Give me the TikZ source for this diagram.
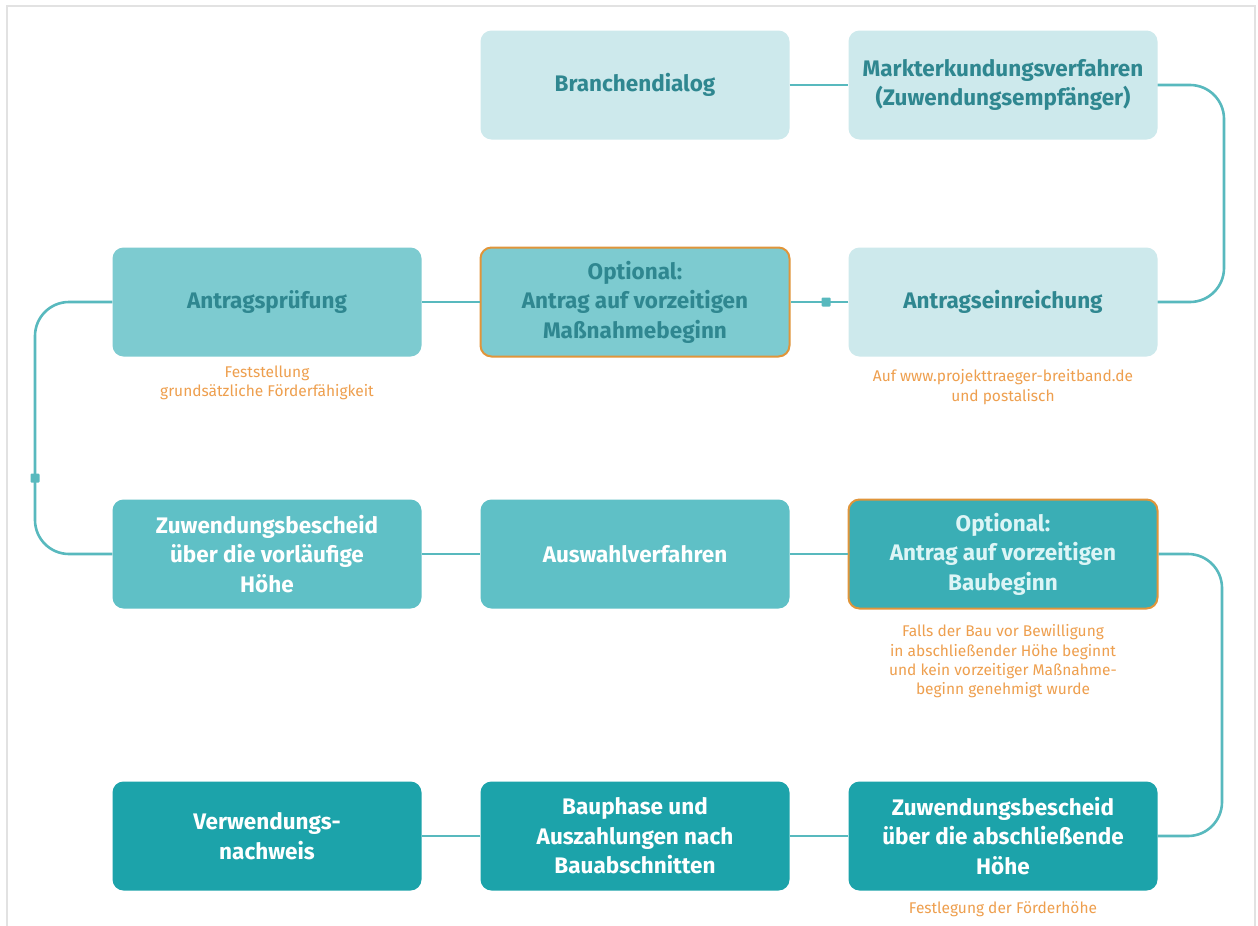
\documentclass[tikz,border=0pt]{standalone}
\usepackage{fontspec}
\setmainfont{Fira Sans}
\definecolor{c1}{HTML}{CDE9EC}
\definecolor{c2}{HTML}{7DCBD0}
\definecolor{c3}{HTML}{5FC0C6}
\definecolor{c4}{HTML}{3AAEB5}
\definecolor{c5}{HTML}{1CA3AA}
\definecolor{tdark}{HTML}{2F8790}
\definecolor{tlight}{HTML}{DDF5F6}
\definecolor{ora}{HTML}{E0953A}
\definecolor{orat}{HTML}{EE9F4E}
\definecolor{line}{HTML}{58B9BE}
\definecolor{frame}{HTML}{E2E2E2}
\tikzset{
  box/.style={rounded corners=11pt, minimum width=309pt, minimum height=109pt, align=center,
    font=\fontsize{22.5}{29.5}\selectfont\bfseries, inner sep=0pt},
  lightbox/.style={box, fill=c1, text=tdark},
  midbox/.style={box, fill=c2, text=tdark},
  optbox/.style={box, fill=c2, text=tdark, draw=ora, line width=2pt},
  box3/.style={box, fill=c3, text=white},
  optbox3/.style={box, fill=c4, text=tlight, draw=ora, line width=2pt},
  box4/.style={box, fill=c5, text=white},
  conn/.style={draw=line, line width=2.6pt, rounded corners=34pt},
  note/.style={anchor=north, align=center, text=orat, font=\fontsize{15.5}{19.3}\selectfont, inner sep=0pt},
  sq/.style={fill=line, minimum size=9pt, inner sep=0pt, rounded corners=1pt}
}
\begin{document}
\begin{tikzpicture}[x=1pt,y=-1pt]
\useasboundingbox (0,0) rectangle (1258,926);
\fill[white] (0,0) rectangle (1258,926);
\draw[frame, line width=1.5pt] (7,926) -- (7,6) -- (1255,6) -- (1255,926);

% row 1
\node[lightbox] (bd) at (635,85) {Branchendialog};
\node[lightbox] (mk) at (1003,85) {Markterkundungsverfahren\\(Zuwendungsempfänger)};
% row 2
\node[midbox] (ap) at (267,302) {Antragsprüfung};
\node[optbox] (om) at (635,302) {Optional:\\Antrag auf vorzeitigen\\Maßnahmebeginn};
\node[lightbox] (ae) at (1003,302) {Antragseinreichung};
% row 3
\node[box3] (zv) at (267,554) {Zuwendungsbescheid\\über die vorläufige\\Höhe};
\node[box3] (av) at (635,554) {Auswahlverfahren};
\node[optbox3] (ob) at (1003,554) {Optional:\\Antrag auf vorzeitigen\\Baubeginn};
% row 4
\node[box4] (vn) at (267,836) {Verwendungs-\\nachweis};
\node[box4] (bp) at (635,836) {Bauphase und\\Auszahlungen nach\\Bauabschnitten};
\node[box4] (za) at (1003,836) {Zuwendungsbescheid\\über die abschließende\\Höhe};

% notes
\node[note] (n1) at ([yshift=-9pt]ap.south) {Feststellung\\grundsätzliche Förderfähigkeit};
\node[note] (n2) at ([yshift=-13pt]ae.south) {Auf www.projekttraeger-breitband.de\\und postalisch};
\node[note] (n3) at ([yshift=-15pt]ob.south) {Falls der Bau vor Bewilligung\\in abschließender Höhe beginnt\\und kein vorzeitiger Maßnahme-\\beginn genehmigt wurde};
\node[note] (n4) at ([yshift=-11pt]za.south) {Festlegung der Förderhöhe};

% connectors
\coordinate (r1) at (1224,85);
\coordinate (r2) at (1224,302);
\coordinate (l1) at (35,302);
\coordinate (l2) at (35,554);
\coordinate (r3) at (1222,554);
\coordinate (r4) at (1222,836);
\draw[conn] (bd.east) -- (mk.west);
\draw[conn] (mk.east) -- (r1) -- (r2) -- (ae.east);
\draw[conn] (ae.west) -- (om.east);
\draw[conn] (om.west) -- (ap.east);
\draw[conn] (ap.west) -- (l1) -- (l2) -- (zv.west);
\draw[conn] (zv.east) -- (av.west);
\draw[conn] (av.east) -- (ob.west);
\draw[conn] (ob.east) -- (r3) -- (r4) -- (za.east);
\draw[conn] (za.west) -- (bp.east);
\draw[conn] (bp.west) -- (vn.east);
\node[sq] (s1) at (826,302) {};
\node[sq] (s2) at (35,478) {};
\end{tikzpicture}
\end{document}
